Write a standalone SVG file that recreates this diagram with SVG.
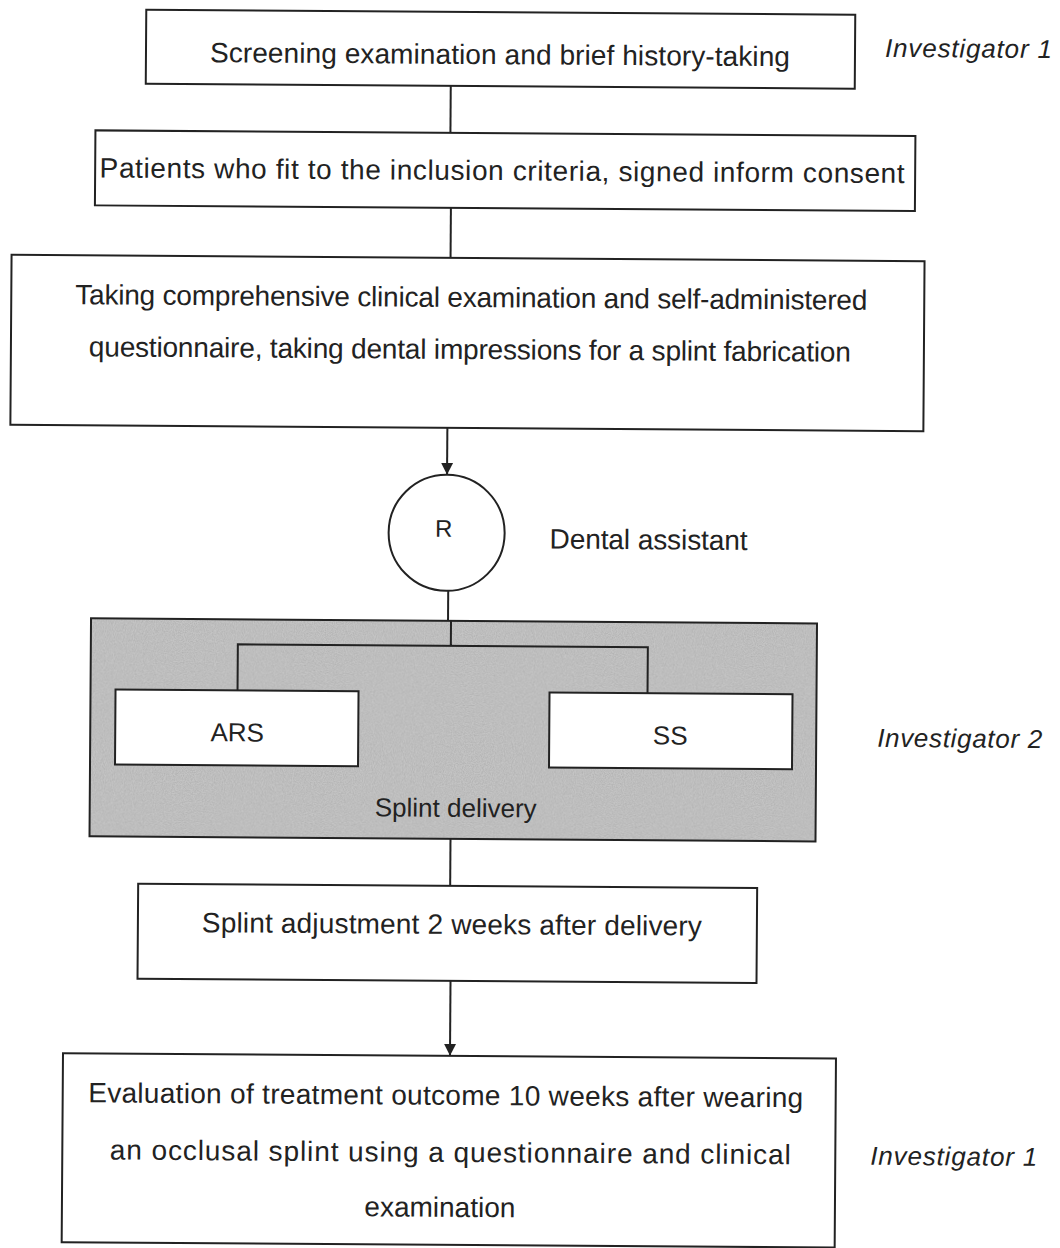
<svg xmlns="http://www.w3.org/2000/svg" width="1060" height="1248" viewBox="0 0 1060 1248">
<defs>
<style>
.box{fill:#fff;stroke:#222;stroke-width:2}
.t{font-family:"Liberation Sans",Arial,sans-serif;font-size:28px;fill:#222;text-anchor:middle}
.s{font-family:"Liberation Sans",Arial,sans-serif;font-size:26px;fill:#222;text-anchor:middle}
.lbl{font-family:"Liberation Sans",Arial,sans-serif;font-size:26px;fill:#222;font-style:italic}
.plain{font-family:"Liberation Sans",Arial,sans-serif;font-size:28px;fill:#222}
.c{stroke:#222;stroke-width:2;fill:none}
</style>
<marker id="arr" viewBox="0 0 10 10" refX="10" refY="5" markerWidth="12" markerHeight="14" markerUnits="userSpaceOnUse" orient="auto">
<path d="M0,0 L10,5 L0,10 z" fill="#222"/>
</marker>
<filter id="noise" x="0" y="0" width="100%" height="100%">
<feTurbulence type="fractalNoise" baseFrequency="0.9" numOctaves="2" seed="3" result="n"/>
<feColorMatrix type="matrix" values="0 0 0 0 0.4  0 0 0 0 0.4  0 0 0 0 0.4  1.3 0 0 0 -0.4" in="n"/>
</filter>
</defs>
<rect width="1060" height="1248" fill="#fff"/>

<g transform="rotate(0.4 470 624)">
<g id="connectors">
<line class="c" x1="447" y1="86" x2="447" y2="133"/>
<line class="c" x1="448" y1="208" x2="448" y2="258"/>
<line class="c" x1="446" y1="428" x2="446" y2="475" marker-end="url(#arr)"/>
<line class="c" x1="448" y1="591" x2="448" y2="621"/>
<line class="c" x1="452" y1="839" x2="452" y2="886"/>
<line class="c" x1="453" y1="981" x2="453" y2="1056" marker-end="url(#arr)"/>
</g>

<g id="n1">
<rect class="box" x="142" y="12" width="709" height="74"/>
<text class="t" x="496" y="64" textLength="580">Screening examination and brief history-taking</text>
</g>
<text class="lbl" x="881" y="54" textLength="167">Investigator 1</text>

<g id="n2">
<rect class="box" x="92" y="133" width="820" height="75"/>
<text class="t" x="499" y="180" textLength="805">Patients who fit to the inclusion criteria, signed inform consent</text>
</g>

<g id="n3">
<rect class="box" x="9" y="258" width="913" height="170"/>
<text class="t" x="469" y="307" textLength="792">Taking comprehensive clinical examination and self-administered</text>
<text class="t" x="468" y="359" textLength="762">questionnaire, taking dental impressions for a splint fabrication</text>
</g>

<g id="nR">
<circle cx="446" cy="533" r="58" fill="#fff" stroke="#222" stroke-width="2"/>
<text class="s" x="443" y="537" style="font-size:24px">R</text>
</g>
<text class="plain" x="549" y="548" textLength="198">Dental assistant</text>

<g id="nDelivery">
<rect x="91" y="621" width="726" height="218" fill="#c4c4c4"/>
<rect x="91" y="621" width="726" height="218" filter="url(#noise)"/>
<rect x="91" y="621" width="726" height="218" fill="none" stroke="#222" stroke-width="2"/>
<path class="c" d="M451,621 V646 M238,692 V646 H648 V692"/>
<text class="s" x="457" y="817">Splint delivery</text>
</g>

<g id="nARS">
<rect class="box" x="116" y="692" width="243" height="75"/>
<text class="s" x="238" y="743">ARS</text>
</g>

<g id="nSS">
<rect class="box" x="550" y="692" width="243" height="75"/>
<text class="s" x="671" y="743">SS</text>
</g>
<text class="lbl" x="878" y="744" textLength="165">Investigator 2</text>

<g id="n4">
<rect class="box" x="140" y="886" width="619" height="95"/>
<text class="t" x="454" y="934" textLength="500">Splint adjustment 2 weeks after delivery</text>
</g>

<g id="n5">
<rect class="box" x="66" y="1056" width="773" height="189"/>
<text class="t" x="449" y="1105" textLength="715">Evaluation of treatment outcome 10 weeks after wearing</text>
<text class="t" x="454" y="1162" textLength="681">an occlusal splint using a questionnaire and clinical</text>
<text class="t" x="444" y="1217">examination</text>
</g>
<text class="lbl" x="874" y="1162" textLength="167">Investigator 1</text>
</g>
</svg>
